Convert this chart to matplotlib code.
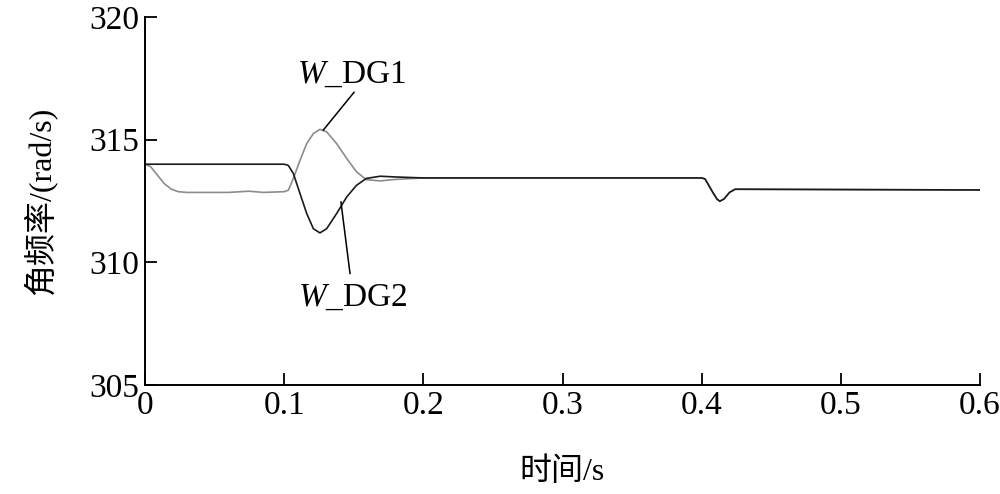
import matplotlib
matplotlib.use("Agg")
import matplotlib.pyplot as plt

plt.rcParams['font.family'] = ['Liberation Serif', 'Noto Sans CJK SC']
plt.rcParams['mathtext.fontset'] = 'custom'
plt.rcParams['mathtext.rm'] = 'Liberation Serif'
plt.rcParams['mathtext.it'] = 'Liberation Serif:italic'

# DG1 (grey curve)
t_dg1 = [0, 0.004, 0.009, 0.014, 0.019, 0.024, 0.03, 0.06, 0.075, 0.085, 0.1,
         0.103, 0.1066, 0.1114, 0.1162, 0.121, 0.1257, 0.1305, 0.1377, 0.145,
         0.152, 0.159, 0.169, 0.18, 0.2, 0.4, 0.4024, 0.405, 0.408, 0.411,
         0.413, 0.416, 0.42, 0.424, 0.6]
w_dg1 = [314.0, 313.9, 313.55, 313.2, 312.98, 312.88, 312.85, 312.85, 312.9,
         312.85, 312.88, 312.94, 313.42, 314.16, 314.84, 315.25, 315.42, 315.32,
         314.84, 314.23, 313.69, 313.37, 313.32, 313.38, 313.44, 313.44, 313.4,
         313.15, 312.85, 312.58, 312.49, 312.58, 312.85, 312.98, 312.95]

# DG2 (black curve)
t_dg2 = [0, 0.1, 0.103, 0.1066, 0.1114, 0.1162, 0.121, 0.1257, 0.1305, 0.1377,
         0.145, 0.152, 0.159, 0.169, 0.18, 0.2, 0.4, 0.4024, 0.405, 0.408, 0.411,
         0.413, 0.416, 0.42, 0.424, 0.6]
w_dg2 = [314.0, 314.0, 313.95, 313.62, 312.80, 311.99, 311.37, 311.2, 311.37,
         311.99, 312.67, 313.14, 313.42, 313.51, 313.48, 313.44, 313.44, 313.4,
         313.15, 312.85, 312.58, 312.49, 312.58, 312.85, 312.98, 312.95]

x_ticks = [0, 0.1, 0.2, 0.3, 0.4, 0.5, 0.6]
x_tick_labels = ['0', '0.1', '0.2', '0.3', '0.4', '0.5', '0.6']
y_ticks = [305, 310, 315, 320]

fig = plt.figure(figsize=(10, 4.94), dpi=100)
ax = fig.add_axes([0.145, 0.2206, 0.835, 0.745])

ax.plot(t_dg1, w_dg1, color='#8c8c8c', lw=1.2)
ax.plot(t_dg2, w_dg2, color='#1a1a1a', lw=1.2)

# annotations
ax.plot([0.1281, 0.1502], [315.39, 316.93], color='black', lw=1.1)
ax.text(0.1487, 317.67, r'$W$_DG1', fontsize=24, ha='center', va='center')
ax.plot([0.1408, 0.1473], [312.46, 309.55], color='black', lw=1.1)
ax.text(0.1495, 308.57, r'$W$_DG2', fontsize=24, ha='center', va='center')

ax.set_xlim(0, 0.6)
ax.set_ylim(305, 320)
ax.set_xticks(x_ticks)
ax.set_xticklabels(x_tick_labels)
ax.set_yticks(y_ticks)
ax.spines['top'].set_visible(False)
ax.spines['right'].set_visible(False)
for s in ('left', 'bottom'):
    ax.spines[s].set_linewidth(1.4)
ax.tick_params(direction='in', length=8.5, width=1.3, labelsize=24, pad=4)

ax.set_xlabel('时间/s', fontsize=23, labelpad=26)
ax.set_ylabel('角频率/(rad/s)', fontsize=23, labelpad=24)

fig.savefig('out.png', dpi=100)
